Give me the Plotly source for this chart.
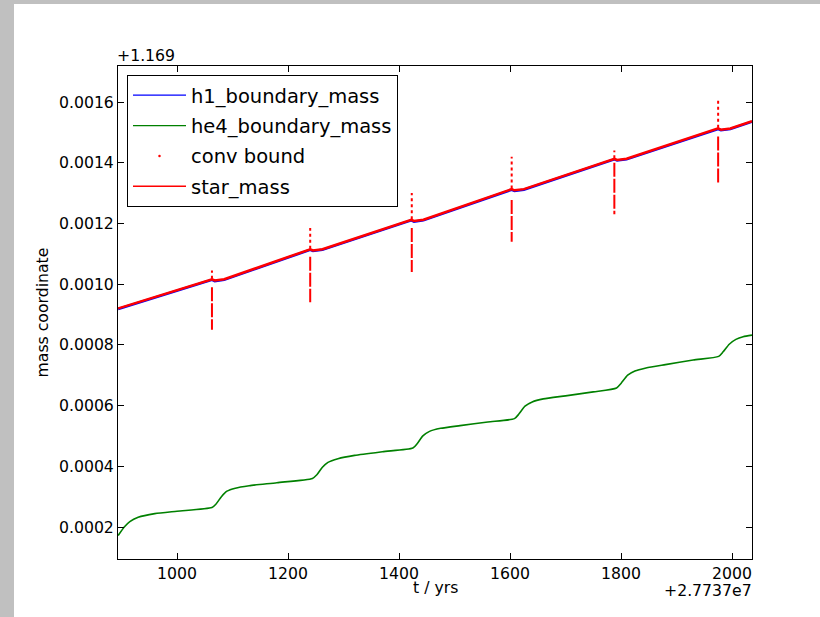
import plotly.graph_objects as go

# time axis values are offsets from +2.7737e7 yr; masses are offsets from +1.169
x_offset_label = "+2.7737e7"
y_offset_label = "+1.169"

star_t = [894, 1063, 1068, 1085, 1240, 1245, 1262, 1422, 1427, 1444,
          1603, 1608, 1625, 1788, 1793, 1810, 1975, 1980, 1997, 2036]
star_m = [0.000920, 0.001016, 0.001012, 0.001016, 0.001115, 0.001111, 0.001115,
          0.001212, 0.001208, 0.001212, 0.001313, 0.001309, 0.001313,
          0.001413, 0.001409, 0.001413, 0.001513, 0.001509, 0.001513, 0.001537]

h1_t = star_t
h1_m = [0.000918, 0.001014, 0.001010, 0.001014, 0.001113, 0.001109, 0.001113,
        0.001210, 0.001206, 0.001210, 0.001311, 0.001307, 0.001311,
        0.001411, 0.001407, 0.001411, 0.001511, 0.001507, 0.001511, 0.001535]

he4_t = [894, 905, 915, 930, 960, 1000, 1063,
         1070, 1080, 1090, 1105, 1130, 1180, 1244,
         1252, 1262, 1272, 1290, 1320, 1370, 1425,
         1433, 1443, 1455, 1475, 1510, 1560, 1608,
         1616, 1627, 1640, 1660, 1700, 1750, 1792,
         1800, 1812, 1825, 1845, 1880, 1930, 1976,
         1984, 1995, 2007, 2020, 2036]
he4_m = [0.000172, 0.000200, 0.000218, 0.000232, 0.000244, 0.000252, 0.000264,
         0.000275, 0.000300, 0.000318, 0.000328, 0.000336, 0.000346, 0.000360,
         0.000372, 0.000397, 0.000413, 0.000425, 0.000436, 0.000448, 0.000460,
         0.000475, 0.000500, 0.000515, 0.000525, 0.000534, 0.000546, 0.000557,
         0.000572, 0.000598, 0.000612, 0.000622, 0.000632, 0.000645, 0.000658,
         0.000673, 0.000700, 0.000714, 0.000724, 0.000735, 0.000750, 0.000762,
         0.000777, 0.000802, 0.000818, 0.000827, 0.000832]

# convective boundary episodes (one per pulse)
conv_t = [1063, 1240, 1423, 1603, 1788, 1975]
conv_up_lo = [0.001018, 0.001117, 0.001214, 0.001315, 0.001415, 0.001515]
conv_up_hi = [0.001045, 0.001185, 0.001300, 0.001420, 0.001440, 0.001610]
conv_lo_top = [0.000990, 0.001090, 0.001185, 0.001277, 0.001400, 0.001486]
conv_lo_bot = [0.000850, 0.000940, 0.001040, 0.001140, 0.001230, 0.001330]

x_ticks = [1000, 1200, 1400, 1600, 1800, 2000]
y_ticks = [0.0002, 0.0004, 0.0006, 0.0008, 0.0010, 0.0012, 0.0014, 0.0016]
y_tick_text = ["0.0002", "0.0004", "0.0006", "0.0008", "0.0010", "0.0012", "0.0014", "0.0016"]

FONT = "DejaVu Sans"
FS = 15.7

def segs(ts, a, b):
    xs, ys = [], []
    for t, lo, hi in zip(ts, a, b):
        xs += [t, t, None]
        ys += [lo, hi, None]
    return xs, ys

fig = go.Figure()
# data traces
fig.add_trace(go.Scatter(x=h1_t, y=h1_m, mode="lines", showlegend=False,
                         line=dict(color="#0000ff", width=2.5)))
fig.add_trace(go.Scatter(x=he4_t, y=he4_m, mode="lines", showlegend=False,
                         line=dict(color="#008000", width=1.6, shape="spline", smoothing=0.6)))
ux, uy = segs(conv_t, conv_up_lo, conv_up_hi)
fig.add_trace(go.Scatter(x=ux, y=uy, mode="lines", showlegend=False,
                         line=dict(color="#ff0000", width=2, dash="3px,3px")))
lx, ly = segs(conv_t, conv_lo_top, conv_lo_bot)
fig.add_trace(go.Scatter(x=lx, y=ly, mode="lines", showlegend=False,
                         line=dict(color="#ff0000", width=2, dash="14px,2px")))
fig.add_trace(go.Scatter(x=star_t, y=star_m, mode="lines", showlegend=False,
                         line=dict(color="#ff0000", width=2.5)))

# legend entries
fig.add_trace(go.Scatter(x=[None], y=[None], mode="lines", name="h1_boundary_mass",
                         line=dict(color="#0000ff", width=1.3), legendgroup="a"))
fig.add_trace(go.Scatter(x=[None], y=[None], mode="lines", name="he4_boundary_mass",
                         line=dict(color="#008000", width=1.3), legendgroup="b"))
fig.add_trace(go.Scatter(x=[None], y=[None], mode="markers", name="conv bound",
                         marker=dict(color="#ff0000", size=2.5), legendgroup="c"))
fig.add_trace(go.Scatter(x=[None], y=[None], mode="lines", name="star_mass",
                         line=dict(color="#ff0000", width=1.3), legendgroup="d"))

L, R, T, B = 118, 752, 66, 559
W, H = 820, 617
pw, ph = R - L, B - T

def px(xp):
    return (xp - L) / pw

def py(yp):
    return (B - yp) / ph

fig.update_layout(
    width=W, height=H,
    margin=dict(l=L, r=W - R, t=T, b=H - B),
    paper_bgcolor="#ffffff", plot_bgcolor="#ffffff",
    font=dict(family=FONT, size=FS, color="#000000"),
    showlegend=True,
    legend=dict(x=px(127), y=py(75), xanchor="left", yanchor="top",
                bgcolor="#ffffff", bordercolor="#000000", borderwidth=1,
                font=dict(family=FONT, size=19.5), traceorder="grouped",
                tracegroupgap=2, itemwidth=53),
    xaxis=dict(range=[893.7, 2036], tickvals=x_ticks, ticks="inside", ticklen=6,
               tickcolor="#000000", showline=True, linecolor="#000000", linewidth=1,
               mirror="allticks", showgrid=False, zeroline=False,
               tickfont=dict(family=FONT, size=FS)),
    yaxis=dict(range=[0.0000946, 0.0017186], tickvals=y_ticks, ticktext=y_tick_text,
               ticks="inside", ticklen=6, tickcolor="#000000", showline=True,
               linecolor="#000000", linewidth=1, mirror="allticks", showgrid=False,
               zeroline=False, tickfont=dict(family=FONT, size=FS)),
    shapes=[
        dict(type="rect", xref="paper", yref="paper", x0=px(0), x1=px(14), y0=py(617), y1=py(0),
             fillcolor="#c0c0c0", line=dict(width=0), layer="below"),
        dict(type="rect", xref="paper", yref="paper", x0=px(0), x1=px(820), y0=py(4), y1=py(0),
             fillcolor="#c0c0c0", line=dict(width=0), layer="below"),
    ],
    annotations=[
        dict(text="mass coordinate", xref="paper", yref="paper", x=px(42), y=0.5,
             textangle=-90, showarrow=False, xanchor="center", yanchor="middle",
             font=dict(family=FONT, size=FS)),
        dict(text="t / yrs", xref="paper", yref="paper", x=0.5, y=py(587),
             showarrow=False, xanchor="center", yanchor="middle",
             font=dict(family=FONT, size=FS)),
        dict(text=x_offset_label, xref="paper", yref="paper", x=1.0, y=py(590),
             showarrow=False, xanchor="right", yanchor="middle", xshift=2,
             font=dict(family=FONT, size=FS)),
        dict(text=y_offset_label, xref="paper", yref="paper", x=0.0, y=py(56),
             showarrow=False, xanchor="left", yanchor="middle", xshift=-3,
             font=dict(family=FONT, size=FS)),
    ],
)

fig.write_html("out.html")
